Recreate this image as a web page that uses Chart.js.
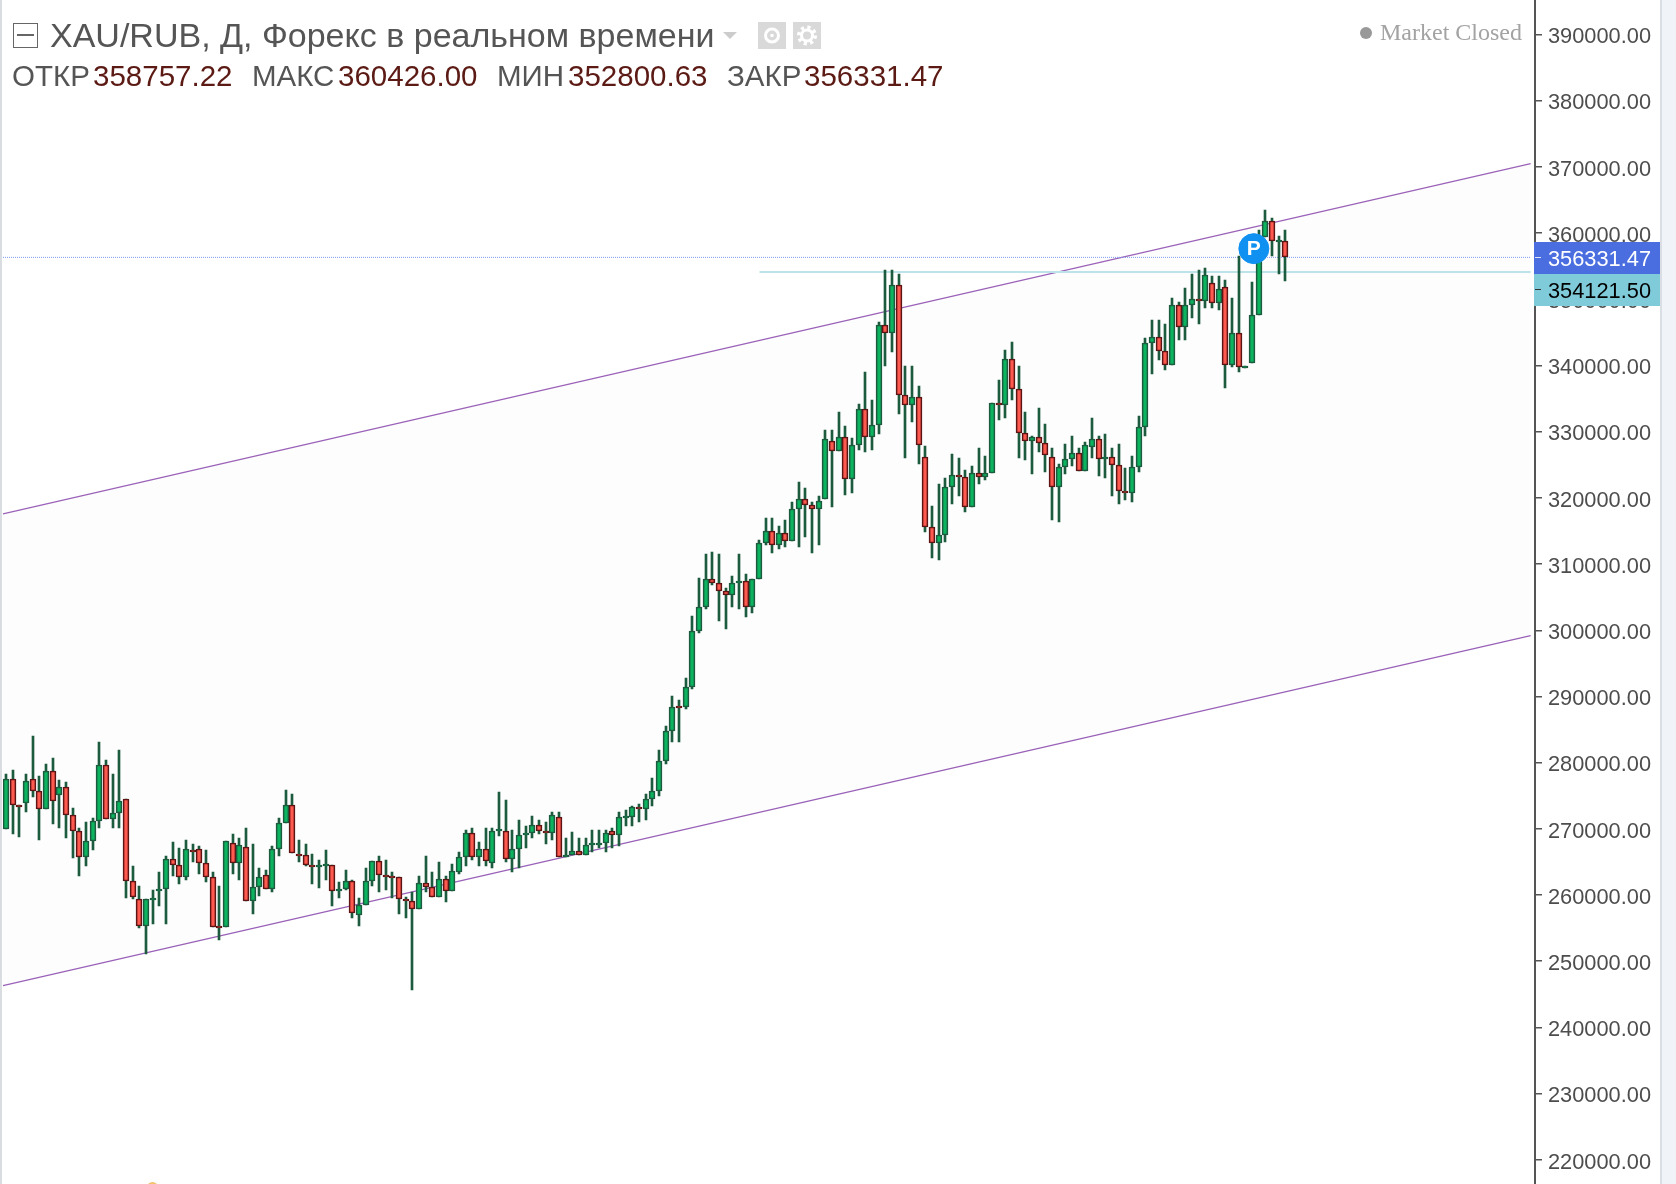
<!DOCTYPE html>
<html lang="ru">
<head>
<meta charset="UTF-8">
<title>XAU/RUB</title>
<script src="https://cdn.jsdelivr.net/npm/chart.js"></script>
<style>
    body, html { margin: 0; padding: 0; background: #fff; width: 1676px; height: 1184px; overflow: hidden; }
    #chartBox { position: absolute; left: 0; top: 0; width: 1660px; height: 1184px; }
    #leftEdge { position: absolute; left: 0; top: 0; width: 2px; height: 1184px; background: #d9dde2; }
    #rightEdge { position: absolute; left: 1660px; top: 0; width: 14px; height: 1184px; background: #f0f3f8; border-left: 2px solid #d9dde4; }
    .head { position: absolute; white-space: nowrap; font-family: "Liberation Sans", sans-serif; color: #555; line-height: 1; }
    .title { font-size: 34px; left: 50px; top: 18px; }
    .row2 { font-size: 29.5px; top: 61px; }
    .val { color: #5c1a14; }
    #collapse { position: absolute; left: 13px; top: 23px; width: 23px; height: 23px; border: 1.5px solid #666; }
    #collapse div { position: absolute; left: 3px; right: 3px; top: 10px; height: 1.5px; background: #666; }
    #caret { position: absolute; left: 723px; top: 32px; width: 0; height: 0; border-left: 7.5px solid transparent; border-right: 7.5px solid transparent; border-top: 7px solid #ccc; }
    .icon { position: absolute; top: 22px; width: 28px; height: 27px; background: #d9d9d9; }
    #closedDot { position: absolute; left: 1360px; top: 27px; width: 12px; height: 12px; border-radius: 50%; background: #999; }
    #closedText { position: absolute; left: 1380px; top: 19px; font-family: "Liberation Serif", serif; font-size: 24px; color: #a3a3a3; white-space: nowrap; }
    #orangeDot { position: absolute; left: 147px; top: 1182px; width: 11px; height: 11px; border-radius: 50%; background: #f3c26a; }
</style>
</head>
<body>
<div id="chartBox"><canvas id="priceChart"></canvas></div>
<div id="leftEdge"></div>
<div id="rightEdge"></div>
<div id="collapse"><div></div></div>
<div class="head title">XAU/RUB, Д, Форекс в реальном времени</div>
<div id="caret"></div>
<div class="icon" style="left:758px"><svg width="28" height="27"><circle cx="14" cy="13.5" r="6.5" fill="none" stroke="#fff" stroke-width="3"/><circle cx="14" cy="13.5" r="1.8" fill="#fff"/></svg></div>
<div class="icon" style="left:793px"><svg width="28" height="27"><circle cx="14" cy="13.5" r="8" fill="none" stroke="#fff" stroke-width="4" stroke-dasharray="3.1 3.2"/><circle cx="14" cy="13.5" r="5.5" fill="none" stroke="#fff" stroke-width="3"/></svg></div>
<div class="head row2" style="left:12px">ОТКР</div>
<div class="head row2 val" style="left:93px">358757.22</div>
<div class="head row2" style="left:252px">МАКС</div>
<div class="head row2 val" style="left:338px">360426.00</div>
<div class="head row2" style="left:497px">МИН</div>
<div class="head row2 val" style="left:568px">352800.63</div>
<div class="head row2" style="left:727px">ЗАКР</div>
<div class="head row2 val" style="left:804px">356331.47</div>
<div id="closedDot"></div>
<div id="closedText">Market Closed</div>
<div id="orangeDot"></div>

<script>
// daily candles
const opens = [
    269930,277590,273660,273860,277590,275770,272950,278800,275070,276380,
    272150,269730,265710,268120,271240,279700,271450,272350,274570,262180,
    259460,255330,259310,260570,260870,265500,264600,262680,266860,267010,
    264900,262790,255380,255130,267920,264800,267320,259060,261170,263090,
    260870,267010,270840,273660,266260,266110,264600,264300,264450,264600,
    260670,260870,262180,256940,258450,262180,265200,263040,262930,262790,
    259410,259160,257850,261880,261270,259660,262480,260570,263490,265710,
    269430,265710,267010,264800,269680,269730,265400,266910,269080,269330,
    270640,269730,269330,271850,265760,266010,266710,266010,267520,267570,
    267820,269730,269130,271650,271850,273310,272950,274470,275670,280210,
    284740,288620,288370,291390,299850,303470,307800,307200,305990,305280,
    307150,307500,303470,307700,313140,315050,312840,314750,313440,318270,
    319880,318980,318270,319780,328650,327030,329250,322800,327940,333480,
    329150,330960,346170,344860,352210,335590,333980,335290,326230,315660,
    313140,314350,321600,323460,323210,318580,323810,323110,323710,334340,
    333980,341030,336500,329850,328650,329250,328340,326230,321600,324620,
    325830,326830,324020,327640,328950,325880,326230,325020,321040,320690,
    324620,330660,343350,344360,342240,340030,349190,345770,349090,350100,
    349690,352510,349390,351910,340030,344960,339670,340330,347580,359360,
    361880,358660,358757.22
];
const highs = [
    278290,278900,273660,278290,284030,277990,279800,280710,277390,277080,
    273160,270130,271040,271650,283130,280410,278290,281920,274570,264400,
    261370,259360,260770,263490,265910,268020,267110,268320,267720,267420,
    266810,263490,261370,268220,269230,268630,270130,267720,264090,263790,
    267420,271650,275880,275270,268320,267720,266210,265300,266810,264600,
    261980,263790,262280,259560,264090,265200,265910,265300,263490,262790,
    259760,260470,262880,265910,263490,264960,262880,264700,266510,269830,
    270130,268020,270130,270130,275570,274370,269830,271340,270440,271950,
    271340,271040,272550,272550,268630,269530,268630,268630,269830,269830,
    269830,270130,272550,272850,273460,273760,275270,277690,281920,285540,
    290080,289470,292800,302160,307900,311530,311830,311530,306390,308200,
    311530,308500,307800,313640,316960,316960,315760,316660,319380,322400,
    321490,319380,320290,330260,330260,332980,330860,329050,334180,339020,
    334790,346570,354430,354430,353820,339930,339930,336900,327840,318780,
    322100,323010,326630,326030,324220,324820,327540,326330,334390,337810,
    342340,343550,339930,332980,329350,333580,331170,327540,325120,328140,
    329350,327540,328450,332070,329350,329650,327540,328140,324520,326330,
    332370,344150,346870,346870,346270,350200,349590,351710,353820,354430,
    354730,353520,353520,352920,350200,356540,339980,352610,360470,363490,
    362280,359560,360426
];
const lows = [
    269930,269230,268730,272600,274770,268320,272950,270740,270130,268630,
    265600,262880,264400,266810,270130,271450,270130,270130,259560,259360,
    255030,251100,255630,258350,255630,262880,261680,262280,264960,263190,
    261980,255130,253220,255130,263190,262280,259060,257150,259860,260870,
    260470,265910,270840,266310,264960,264400,261680,261070,262280,258350,
    259560,260770,256540,255330,258450,261370,260470,260770,259560,257150,
    256540,245670,257850,260470,259660,259660,258960,260570,263190,264400,
    265300,264400,264400,264090,268930,264960,263490,264090,267110,268630,
    269230,267720,268320,265710,265710,266010,266010,266010,266510,267110,
    266510,267110,267420,270440,270440,271040,271340,273460,274970,279800,
    283130,283130,288060,291090,299540,303170,306790,301360,300150,303470,
    303170,301960,302570,307700,312840,311630,312230,312530,313440,312530,
    314040,311630,312840,319780,318570,327030,320390,320690,327240,326930,
    327240,329650,339930,342040,332680,326030,331470,325120,314850,310920,
    310620,313340,319080,320290,317870,318580,322100,322700,323710,331770,
    332070,334790,326030,325730,323610,326930,323910,316660,316360,323610,
    324820,324020,324020,326030,323310,323010,320290,319080,319690,319380,
    323910,329350,338720,340830,339320,340030,343850,343850,347180,346270,
    348690,348690,348380,336600,339720,339020,339670,340330,347580,359360,
    356540,353820,352800.63
];
const closes = [
    277590,273560,273260,277290,275670,272950,278800,274160,276380,272050,
    269630,265710,268220,271240,279700,271450,272450,274260,262080,259660,
    255330,259360,259610,260970,265500,264500,262680,267010,266560,264800,
    262680,255130,255080,268220,264800,267620,259060,261170,262790,260870,
    267010,270940,273660,266310,265960,264500,264300,264600,264750,260570,
    260970,262180,257250,258550,262180,265200,262980,262730,262630,259360,
    259110,257850,261880,261170,259660,262480,260570,263690,265810,269430,
    265710,267010,265100,269730,269980,265400,267010,269130,269380,270640,
    269630,269430,272150,265710,266060,266710,266010,267620,267820,267870,
    269430,269130,271850,271950,273360,273010,274570,275770,280310,284840,
    288470,288310,291490,299950,303570,307800,307100,305890,305280,307100,
    307450,303470,307800,313240,315050,312840,314750,313440,318380,319880,
    318880,318270,319580,328950,327030,329250,322800,328040,333480,329150,
    330960,346170,344860,352210,335490,333980,335290,327940,315560,313140,
    314450,321700,323510,323160,318580,323810,323110,323810,334390,334030,
    341030,336400,329750,328550,329250,328240,326430,321600,324720,325930,
    326830,324020,328040,328950,325830,326180,324920,320990,320740,324720,
    330760,343450,344360,342140,340030,349190,345770,349190,350100,349790,
    353720,349390,351610,340030,344960,339830,339980,347680,359360,361880,
    358760,358960,356331.47
];

// axis
const yTicks = [220000,230000,240000,250000,260000,270000,280000,290000,300000,310000,320000,330000,340000,350000,360000,370000,380000,390000];
const yMin = 216350;
const yMax = 395210;
const slotCount = 230; // 193 candles plus the empty space on the right

// drawings, x is in candle numbers
const channelX = [-0.45, 228.85];
const channelTop = [317565, 370483];
const channelBottom = [246310, 299180];
const lastPrice = 356331.47;
const markedPrice = 354121.50;
const markedFrom = 113.1;
const orderMark = [187.3, 357650];

const slots = Array.from({length: slotCount}, (_, i) => i);
const isUp = opens.map((o, i) => closes[i] >= o);

function pts(xs, ys) {
    return xs.map((x, i) => ({x: x, y: ys[i]}));
}

// the original snaps candles to whole pixels
const snapPlugin = {
    id: 'snap',
    beforeDatasetsDraw(chart) {
        [0, 1].forEach(n => {
            chart.getDatasetMeta(n).data.forEach(bar => {
                bar.x = Math.round(bar.x);
                bar.y = Math.round(bar.y);
                bar.base = Math.round(bar.base);
            });
        });
    }
};

const labelsPlugin = {
    id: 'priceLabels',
    afterDraw(chart) {
        const ctx = chart.ctx;
        const y = chart.scales.y;
        const x2 = chart.scales.x2;
        const left = chart.chartArea.right - 1;
        const right = 1660;
        const h = 32;

        // P on the order marker
        ctx.save();
        ctx.font = 'bold 21px "Liberation Sans"';
        ctx.fillStyle = '#fff';
        ctx.textAlign = 'center';
        ctx.textBaseline = 'middle';
        ctx.fillText('P', x2.getPixelForValue(orderMark[0]), y.getPixelForValue(orderMark[1]) + 1);

        // last price box, the second one stacks right under it
        const lastY = Math.round(y.getPixelForValue(lastPrice));
        const boxes = [
            {top: lastY - 15, fill: '#4a6ee0', text: '#fff', tick: '#dfe6fa', value: lastPrice},
            {top: lastY + 17, fill: '#80cbd9', text: '#000', tick: '#333', value: markedPrice}
        ];
        ctx.textAlign = 'left';
        ctx.font = '21.8px "Liberation Sans"';
        boxes.forEach(b => {
            ctx.fillStyle = b.fill;
            ctx.fillRect(left, b.top, right - left, h);
            ctx.fillStyle = b.tick;
            ctx.fillRect(left + 1, b.top + 15, 6, 1);
            ctx.fillStyle = b.text;
            ctx.fillText(b.value.toFixed(2), 1548, b.top + h / 2 + 2);
        });
        ctx.restore();
    }
};

const ctx = document.getElementById('priceChart').getContext('2d');
new Chart(ctx, {
    type: 'bar',
    plugins: [snapPlugin, labelsPlugin],
    data: {
        labels: slots,
        datasets: [
            {
                label: 'body',
                data: opens.map((o, i) => [o, closes[i]]),
                grouped: false,
                barThickness: 6,
                backgroundColor: isUp.map(up => up ? '#0cb460' : '#ff5a50'),
                borderColor: isUp.map(up => up ? '#1c5b3e' : '#5e1412'),
                borderWidth: 1.7,
                borderSkipped: false,
                order: 2
            },
            {
                label: 'wick',
                data: lows.map((l, i) => [l, highs[i]]),
                grouped: false,
                barThickness: 2,
                backgroundColor: '#1c5b3e',
                borderWidth: 0,
                order: 3
            },
            {
                type: 'line',
                label: 'channel top',
                xAxisID: 'x2',
                data: pts(channelX, channelTop),
                borderColor: '#9b62b8',
                borderWidth: 1.3,
                pointRadius: 0,
                fill: '+1',
                backgroundColor: 'rgba(100,100,140,0.012)',
                order: 6
            },
            {
                type: 'line',
                label: 'channel bottom',
                xAxisID: 'x2',
                data: pts(channelX, channelBottom),
                borderColor: '#9b62b8',
                borderWidth: 1.3,
                pointRadius: 0,
                order: 6
            },
            {
                type: 'line',
                label: 'last price',
                xAxisID: 'x2',
                data: pts([-0.45, channelX[1]], [lastPrice, lastPrice]),
                borderColor: '#7f9bf0',
                borderWidth: 1,
                borderDash: [1, 1],
                pointRadius: 0,
                order: 5
            },
            {
                type: 'line',
                label: 'marked price',
                xAxisID: 'x2',
                data: pts([markedFrom, channelX[1]], [markedPrice, markedPrice]),
                borderColor: '#bde3ea',
                borderWidth: 2,
                pointRadius: 0,
                order: 5
            },
            {
                type: 'line',
                label: 'order',
                xAxisID: 'x2',
                data: [{x: orderMark[0], y: orderMark[1]}],
                pointRadius: 15,
                pointBackgroundColor: '#1090f0',
                pointBorderColor: '#1090f0',
                showLine: false,
                order: 1
            }
        ]
    },
    options: {
        responsive: true,
        maintainAspectRatio: false,
        animation: false,
        layout: { autoPadding: false, padding: { left: 2.67, right: 0, top: 0, bottom: 0 } },
        plugins: {
            legend: { display: false },
            tooltip: { enabled: false },
            title: { display: false }
        },
        scales: {
            x: { display: false, offset: true },
            x2: { type: 'linear', display: false, offset: false, min: -0.5, max: slotCount - 0.5 },
            y: {
                position: 'right',
                min: yMin,
                max: yMax,
                afterBuildTicks(axis) {
                    axis.ticks = yTicks.map(v => ({value: v}));
                },
                afterFit(axis) {
                    axis.width = 125;
                    axis.paddingTop = 0;
                    axis.paddingBottom = 0;
                },
                border: { display: true, color: '#555', width: 2 },
                grid: { drawOnChartArea: false, drawTicks: true, tickLength: 7, color: '#555', lineWidth: 1.5 },
                ticks: {
                    padding: 6,
                    color: '#4d4d4d',
                    font: { family: '"Liberation Sans"', size: 21.8, lineHeight: '5.5px' },
                    autoSkip: false,
                    // empty first line pushes the text a bit under its tick, like the original
                    callback: v => ['', v.toFixed(2)]
                }
            }
        }
    }
});
</script>
</body>
</html>
